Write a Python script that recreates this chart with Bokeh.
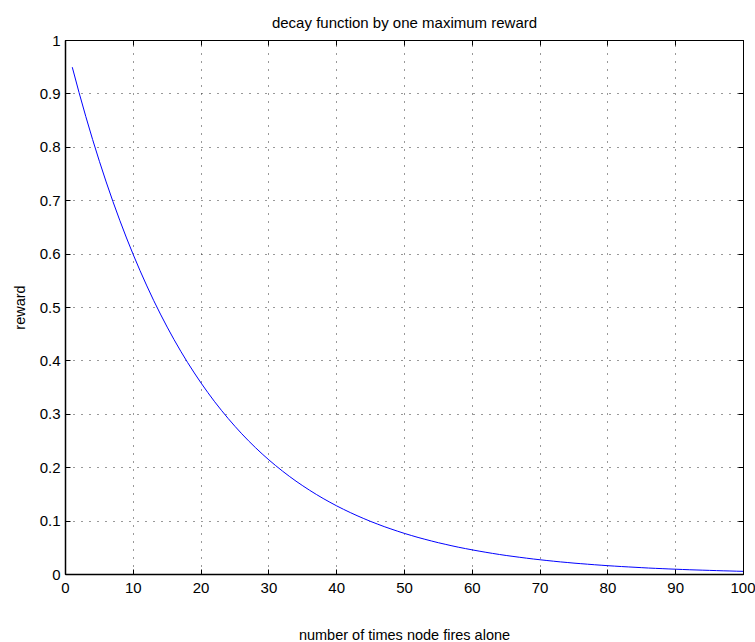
from bokeh.plotting import figure
from bokeh.models import Range1d, LinearAxis, FixedTicker, ColumnDataSource, CustomLabelingPolicy
from bokeh.embed import file_html
from bokeh.resources import INLINE

# number of times node fires alone
fires = list(range(1, 101))
# reward
reward = [
    0.9500, 0.9025, 0.8574, 0.8145, 0.7738, 0.7351, 0.6983, 0.6634, 0.6302, 0.5987,
    0.5688, 0.5404, 0.5133, 0.4877, 0.4633, 0.4401, 0.4181, 0.3972, 0.3774, 0.3585,
    0.3406, 0.3235, 0.3074, 0.2920, 0.2774, 0.2635, 0.2503, 0.2378, 0.2259, 0.2146,
    0.2039, 0.1937, 0.1840, 0.1748, 0.1661, 0.1578, 0.1499, 0.1424, 0.1353, 0.1285,
    0.1221, 0.1160, 0.1102, 0.1047, 0.0994, 0.0945, 0.0897, 0.0853, 0.0810, 0.0769,
    0.0731, 0.0694, 0.0660, 0.0627, 0.0595, 0.0566, 0.0537, 0.0510, 0.0485, 0.0461,
    0.0438, 0.0416, 0.0395, 0.0375, 0.0356, 0.0339, 0.0322, 0.0306, 0.0290, 0.0276,
    0.0262, 0.0249, 0.0236, 0.0225, 0.0213, 0.0203, 0.0193, 0.0183, 0.0174, 0.0165,
    0.0157, 0.0149, 0.0142, 0.0135, 0.0128, 0.0121, 0.0115, 0.0110, 0.0104, 0.0099,
    0.0094, 0.0089, 0.0085, 0.0081, 0.0077, 0.0073, 0.0069, 0.0066, 0.0062, 0.0059,
]
x_ticks = [0, 10, 20, 30, 40, 50, 60, 70, 80, 90, 100]
y_ticks = [0, 0.1, 0.2, 0.3, 0.4, 0.5, 0.6, 0.7, 0.8, 0.9, 1]

FONT = "Liberation Sans"

p = figure(
    frame_width=678, frame_height=534,
    min_border_left=65, min_border_right=12, min_border_top=40, min_border_bottom=68,
    x_range=Range1d(0, 100), y_range=Range1d(0, 1),
    output_backend="svg", toolbar_location=None,
    title="decay function by one maximum reward",
)
p.title.align = "center"
p.title.text_font = FONT
p.title.text_font_size = "15px"
p.title.text_font_style = "normal"
p.title.text_color = "black"
p.title.standoff = 19

p.background_fill_color = "white"
p.border_fill_color = "white"
p.outline_line_color = "black"
p.outline_line_width = 1

src = ColumnDataSource(dict(x=fires, y=reward))
p.line("x", "y", source=src, line_color="#0000ff", line_width=1)

for ax, ticks in ((p.xaxis[0], x_ticks), (p.yaxis[0], y_ticks)):
    ax.ticker = FixedTicker(ticks=ticks)
    ax.major_tick_in = 5
    ax.major_tick_out = 0
    ax.minor_tick_line_color = None
    ax.axis_line_color = "black"
    ax.axis_line_width = 1.5
    ax.major_tick_line_color = "black"
    ax.major_label_text_font = FONT
    ax.major_label_text_font_size = "15px"
    ax.major_label_text_color = "black"
    ax.axis_label_text_font = FONT
    ax.axis_label_text_font_size = "14.5px"
    ax.axis_label_text_font_style = "normal"
    ax.axis_label_text_color = "black"

p.xaxis[0].axis_label = "number of times node fires alone"
p.xaxis[0].major_label_standoff = 8
p.xaxis[0].axis_label_standoff = 31
p.yaxis[0].axis_label = "reward"
p.yaxis[0].major_label_standoff = 5
p.yaxis[0].axis_label_standoff = 9

# box ticks on top and right (tick marks only, no labels)
no_labels = CustomLabelingPolicy(
    code="const ids = [...indices]; for (const i of ids) indices.unset(i); return indices;"
)
for loc, ticks in (("above", x_ticks), ("right", y_ticks)):
    ax = LinearAxis(ticker=FixedTicker(ticks=ticks))
    ax.major_tick_in = 5
    ax.major_tick_out = 0
    ax.minor_tick_line_color = None
    ax.axis_line_color = "black"
    ax.major_tick_line_color = "black"
    ax.major_label_text_font_size = "0px"
    ax.major_label_standoff = 0
    ax.major_label_policy = no_labels
    p.add_layout(ax, loc)

for g, ticks in ((p.xgrid[0], x_ticks), (p.ygrid[0], y_ticks)):
    g.ticker = FixedTicker(ticks=ticks)
    g.grid_line_color = "#333333"
    g.grid_line_dash = "1 7"
    g.grid_line_width = 1

open("out.html", "w").write(file_html(p, INLINE))
